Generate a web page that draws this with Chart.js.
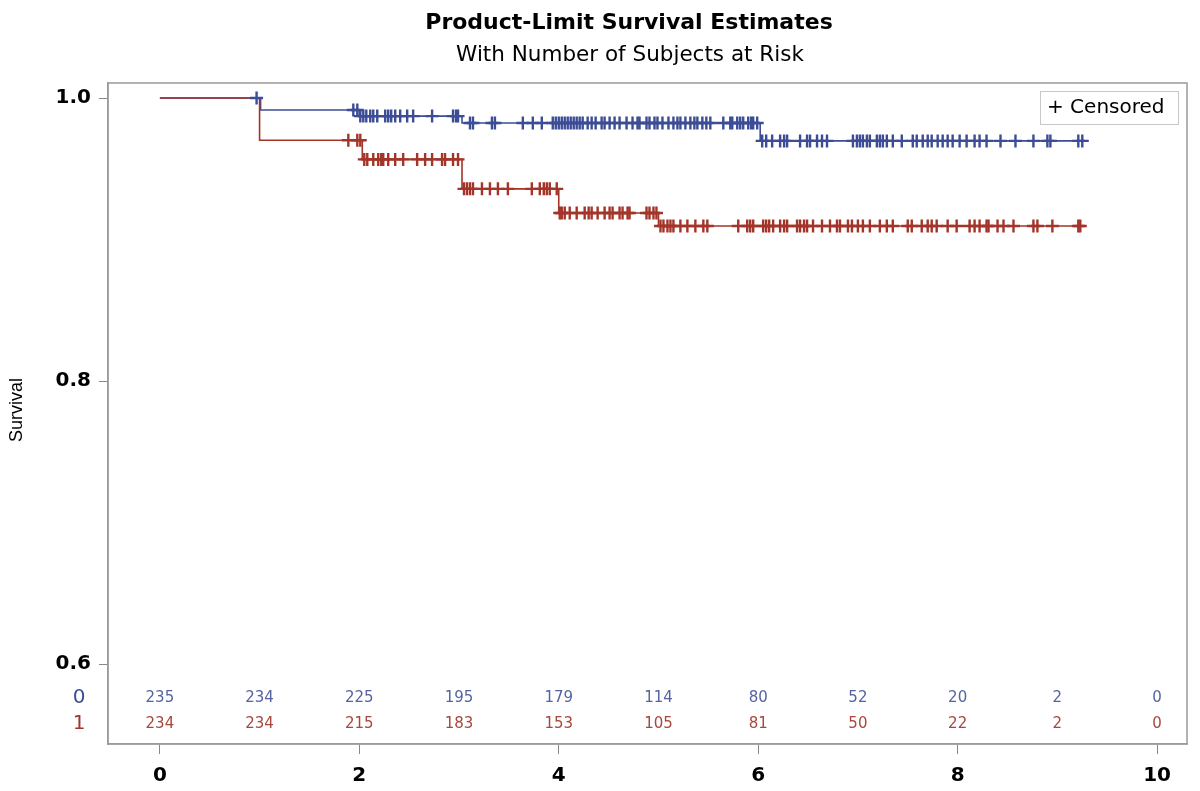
<!DOCTYPE html>
<html>
<head>
<meta charset="utf-8">
<script src="https://cdn.jsdelivr.net/npm/chart.js@4"></script>
<style>
  html, body { margin: 0; padding: 0; background: #fff; }
  canvas { display: block; }
</style>
</head>
<body>
<canvas id="km" width="1200" height="791"></canvas>
<script>
// survival steps, group 0 (blue) and group 1 (red)
const stepTimes0 = [0, 1.01, 2.0, 3.03, 6.02, 9.28];
const stepSurv0  = [1.0, 0.9915, 0.9872, 0.9823, 0.9697, 0.9697];
const stepTimes1 = [0, 1.0, 2.03, 3.03, 4.0, 5.0, 9.28];
const stepSurv1  = [1.0, 0.9701, 0.9566, 0.9358, 0.9187, 0.9095, 0.9095];

// censored times
const censor0 = [0.97, 1.94, 1.98, 2.01, 2.04, 2.07, 2.11, 2.14, 2.18, 2.26, 2.29, 2.32, 2.36,
  2.41, 2.48, 2.54, 2.73, 2.94, 2.97, 2.99, 3.11, 3.14, 3.33, 3.36, 3.64, 3.74, 3.83,
  3.94, 3.97, 4.00, 4.03, 4.06, 4.09, 4.12, 4.15, 4.18, 4.21, 4.24, 4.29, 4.33, 4.37, 4.43,
  4.46, 4.51, 4.56, 4.61, 4.68, 4.74, 4.79, 4.81, 4.88, 4.91, 4.96, 4.99, 5.04, 5.10, 5.15,
  5.19, 5.22, 5.27, 5.32, 5.36, 5.39, 5.44, 5.48, 5.52, 5.65, 5.72, 5.74, 5.79, 5.82, 5.85,
  5.90, 5.93, 5.95, 5.99, 6.04, 6.08, 6.14, 6.22, 6.26, 6.29, 6.42, 6.49, 6.52, 6.59, 6.64,
  6.69, 6.95, 6.99, 7.02, 7.05, 7.09, 7.12, 7.19, 7.22, 7.25, 7.29, 7.35, 7.44, 7.55, 7.59,
  7.65, 7.70, 7.74, 7.80, 7.85, 7.90, 7.95, 8.02, 8.09, 8.17, 8.22, 8.29, 8.43, 8.58, 8.76,
  8.90, 8.93, 9.21, 9.25];
const censor1 = [1.89, 1.98, 2.01, 2.05, 2.08, 2.14, 2.19, 2.22, 2.24, 2.29, 2.36, 2.44, 2.58,
  2.66, 2.73, 2.83, 2.86, 2.94, 2.99, 3.05, 3.08, 3.11, 3.14, 3.23, 3.31, 3.39, 3.49, 3.73,
  3.81, 3.85, 3.88, 3.91, 3.98, 4.01, 4.03, 4.06, 4.11, 4.18, 4.26, 4.30, 4.33, 4.39, 4.46,
  4.51, 4.54, 4.61, 4.64, 4.69, 4.71, 4.88, 4.91, 4.95, 4.98, 5.02, 5.05, 5.09, 5.12, 5.15,
  5.22, 5.29, 5.37, 5.45, 5.49, 5.80, 5.89, 5.92, 5.95, 6.05, 6.08, 6.11, 6.15, 6.22, 6.26,
  6.29, 6.39, 6.42, 6.46, 6.49, 6.55, 6.64, 6.72, 6.79, 6.82, 6.90, 6.94, 7.00, 7.05, 7.12,
  7.22, 7.29, 7.35, 7.50, 7.54, 7.64, 7.70, 7.74, 7.79, 7.90, 7.99, 8.12, 8.17, 8.22, 8.29,
  8.31, 8.40, 8.46, 8.56, 8.76, 8.80, 8.95, 9.21, 9.23];

// number at risk
const riskTimes = [0, 1, 2, 3, 4, 5, 6, 7, 8, 9, 10];
const risk0 = [235, 234, 225, 195, 179, 114, 80, 52, 20, 2, 0];
const risk1 = [234, 234, 215, 183, 153, 105, 81, 50, 22, 2, 0];

const xTicks = [0, 2, 4, 6, 8, 10];
const yTicks = [0.6, 0.8, 1.0];

const blue = "#3c4d95";
const red = "#a3342a";
const blueText = "#5563a0";
const redText = "#a8473c";
const FONT = "'DejaVu Sans', Verdana, sans-serif";
const FONT2 = "'Liberation Sans', Arial, sans-serif";

function survAt(times, surv, t) {
	let s = surv[0];
	for (let i = 0; i < times.length; i++) {
		if (times[i] <= t) s = surv[i];
	}
	return s;
}

const stepPts = (times, surv) => times.map((t, i) => ({x: t, y: surv[i]}));
const censorPts = (list, times, surv) => list.map(t => ({x: t, y: survAt(times, surv, t)}));

const decorPlugin = {
	id: 'decor',
	afterDraw(chart) {
		const ctx = chart.ctx;
		const a = chart.chartArea;
		const xs = chart.scales.x;
		ctx.save();
		// frame
		ctx.strokeStyle = "#9a9a9a";
		ctx.lineWidth = 1.5;
		ctx.strokeRect(a.left, a.top, a.right - a.left, a.bottom - a.top);

		// titles
		ctx.fillStyle = "#000";
		ctx.textAlign = "center";
		ctx.textBaseline = "middle";
		ctx.font = "bold 22px " + FONT;
		ctx.fillText("Product-Limit Survival Estimates", 629, 23);
		ctx.font = "21.5px " + FONT;
		ctx.fillText("With Number of Subjects at Risk", 630, 55);

		// y title
		ctx.save();
		ctx.translate(17, 410);
		ctx.rotate(-Math.PI / 2);
		ctx.font = "18px " + FONT2;
		ctx.fillText("Survival", 0, 0);
		ctx.restore();

		// legend
		ctx.strokeStyle = "#c8c8c8";
		ctx.lineWidth = 1;
		ctx.strokeRect(1040.5, 91.5, 138, 33);
		ctx.font = "20px " + FONT;
		ctx.textAlign = "left";
		ctx.fillText("+ Censored", 1047, 108);

		// at-risk table
		ctx.textAlign = "center";
		ctx.font = "15px " + FONT;
		riskTimes.forEach((t, i) => {
			const px = xs.getPixelForValue(t);
			ctx.fillStyle = blueText;
			ctx.fillText(String(risk0[i]), px, 698);
			ctx.fillStyle = redText;
			ctx.fillText(String(risk1[i]), px, 724);
		});
		ctx.font = "20px " + FONT;
		ctx.fillStyle = blue;
		ctx.fillText("0", 79, 698);
		ctx.fillStyle = red;
		ctx.fillText("1", 79, 724);
		ctx.restore();
	}
};

new Chart(document.getElementById('km').getContext('2d'), {
	type: 'line',
	data: {
		datasets: [
			{
				data: stepPts(stepTimes0, stepSurv0),
				borderColor: blue, borderWidth: 1.6, stepped: 'before',
				pointRadius: 0, fill: false, order: 3
			},
			{
				data: stepPts(stepTimes1, stepSurv1),
				borderColor: red, borderWidth: 1.6, stepped: 'before',
				pointRadius: 0, fill: false, order: 2
			},
			{
				type: 'scatter',
				data: censorPts(censor0, stepTimes0, stepSurv0),
				pointStyle: 'cross', pointRadius: 6.5, borderColor: blue,
				pointBorderWidth: 2.4, backgroundColor: blue, showLine: false, order: 1
			},
			{
				type: 'scatter',
				data: censorPts(censor1, stepTimes1, stepSurv1),
				pointStyle: 'cross', pointRadius: 6.5, borderColor: red,
				pointBorderWidth: 2.4, backgroundColor: red, showLine: false, order: 1
			}
		]
	},
	options: {
		responsive: false,
		animation: false,
		layout: { padding: { top: 83, right: 13, left: 0, bottom: 0 } },
		plugins: {
			legend: { display: false },
			title: { display: false },
			tooltip: { enabled: false }
		},
		scales: {
			x: {
				type: 'linear',
				min: -0.52,
				max: 10.3,
				afterBuildTicks: s => { s.ticks = xTicks.map(v => ({value: v})); },
				afterFit: s => { s.height = 47; },
				grid: { display: true, drawOnChartArea: false, drawTicks: true, tickLength: 10, color: "#888" },
				border: { display: true, color: "#9a9a9a", width: 1.5 },
				ticks: { color: "#000", font: { family: FONT, size: 20, weight: 'bold' }, padding: 10, maxRotation: 0 }
			},
			y: {
				min: 0.5435,
				max: 1.0106,
				afterBuildTicks: s => { s.ticks = yTicks.map(v => ({value: v})); },
				afterFit: s => { s.width = 108; },
				grid: { display: true, drawOnChartArea: false, drawTicks: true, tickLength: 9, color: "#888" },
				border: { display: true, color: "#9a9a9a", width: 1.5 },
				ticks: { color: "#000", font: { family: FONT, size: 20, weight: 'bold' }, padding: 8,
					callback: v => v.toFixed(1) }
			}
		}
	},
	plugins: [decorPlugin]
});
</script>
</body>
</html>
